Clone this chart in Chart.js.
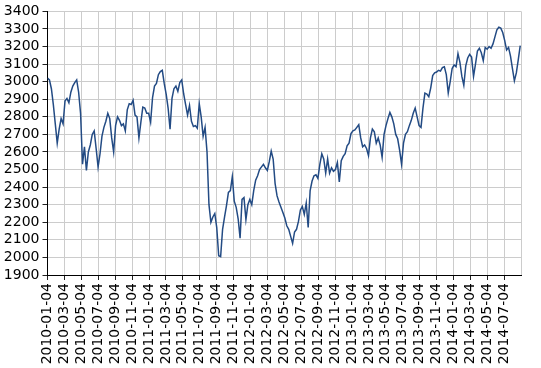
<!DOCTYPE html>
<html>
<head>
<meta charset="utf-8">
<script src="https://cdn.jsdelivr.net/npm/chart.js@4.4.0/dist/chart.umd.min.js"></script>
<style>
  html, body { margin: 0; padding: 0; background: #fff; }
  #wrap { width: 541px; height: 368px; position: relative; }
</style>
</head>
<body>
<div id="wrap"><canvas id="priceChart"></canvas></div>
<script>
// Weekly closes, first sample on 2010-01-04
const startDate = '2010-01-04';
const stepDays = 7;

const values = [
    3020, 3010, 2960, 2870, 2760, 2650, 2730, 2790, 2760, 2890,
    2905, 2880, 2940, 2975, 2995, 3010, 2940, 2820, 2530, 2630,
    2495, 2600, 2640, 2700, 2720, 2620, 2515, 2590, 2690, 2740,
    2775, 2820, 2790, 2680, 2600, 2750, 2800, 2780, 2750, 2760,
    2720, 2840, 2875, 2870, 2895, 2810, 2800, 2680, 2770, 2855,
    2850, 2820, 2820, 2770, 2910, 2975, 2990, 3040, 3058, 3065,
    2990, 2930, 2850, 2730, 2905, 2960, 2975, 2945, 2995, 3010,
    2930, 2870, 2810, 2865, 2775, 2745, 2750, 2735, 2875, 2800,
    2690, 2740, 2600, 2300, 2200, 2230, 2250, 2170, 2010, 2005,
    2160, 2230, 2295, 2370, 2380, 2460, 2320, 2285, 2220, 2110,
    2330, 2340, 2215, 2300, 2330, 2300, 2380, 2440, 2465, 2500,
    2515, 2530, 2510, 2495, 2545, 2605, 2560, 2420, 2350, 2315,
    2285, 2255, 2225, 2180, 2160, 2120, 2080, 2145, 2160, 2205,
    2270, 2290, 2245, 2310, 2170, 2380, 2435, 2465, 2470, 2450,
    2530, 2590, 2560, 2480, 2560, 2480, 2510, 2490, 2500, 2540,
    2430, 2550, 2575, 2590, 2635, 2650, 2705, 2720, 2725, 2740,
    2755, 2680, 2630, 2640, 2620, 2580, 2680, 2730, 2715, 2650,
    2680, 2640, 2570, 2700, 2750, 2790, 2825, 2800, 2760, 2700,
    2675, 2610, 2530, 2650, 2700, 2715, 2750, 2780, 2820, 2850,
    2800, 2750, 2740, 2850, 2935, 2930, 2915, 2965, 3035, 3050,
    3055, 3065, 3060, 3080, 3085, 3040, 2935, 3000, 3075, 3095,
    3085, 3160, 3110, 3030, 2980, 3090, 3135, 3155, 3140, 3030,
    3100, 3175, 3190, 3165, 3120, 3195, 3185, 3200, 3190, 3215,
    3255, 3295, 3310, 3305, 3280, 3235, 3180, 3195, 3145, 3075,
    3005, 3050, 3125, 3205
];

const tickLabels = [
    '2010-01-04', '2010-03-04', '2010-05-04', '2010-07-04', '2010-09-04', '2010-11-04',
    '2011-01-04', '2011-03-04', '2011-05-04', '2011-07-04', '2011-09-04', '2011-11-04',
    '2012-01-04', '2012-03-04', '2012-05-04', '2012-07-04', '2012-09-04', '2012-11-04',
    '2013-01-04', '2013-03-04', '2013-05-04', '2013-07-04', '2013-09-04', '2013-11-04',
    '2014-01-04', '2014-03-04', '2014-05-04', '2014-07-04'
];

const yMin = 1900;
const yMax = 3400;
const yStep = 100;

// x is measured in months since startDate, ticks every 2 months
const DAYS_PER_MONTH = 365.25 / 12;
const lastMonth = tickLabels.length * 2;
const points = values.map((v, i) => ({ x: i * stepDays / DAYS_PER_MONTH, y: v }));

const tickFont = { family: 'DejaVu Sans', size: 14 };

new Chart(document.getElementById('priceChart'), {
    type: 'line',
    data: {
        datasets: [{
            data: points,
            borderColor: '#234b84',
            borderWidth: 1.5,
            pointRadius: 0,
            tension: 0,
            fill: false
        }]
    },
    options: {
        responsive: true,
        maintainAspectRatio: false,
        animation: false,
        layout: { padding: { top: 10, right: 4, left: 0, bottom: 0 } },
        plugins: {
            legend: { display: false },
            tooltip: { enabled: false }
        },
        scales: {
            x: {
                type: 'linear',
                min: 0,
                max: lastMonth,
                afterFit: (scale) => { scale.height = 93; },
                border: { color: '#000', width: 1 },
                grid: {
                    color: '#cccccc',
                    lineWidth: 1,
                    tickLength: 5,
                    tickColor: (ctx) => ctx.index === tickLabels.length ? 'rgba(0,0,0,0)' : '#222'
                },
                ticks: {
                    stepSize: 2,
                    autoSkip: false,
                    minRotation: 90,
                    maxRotation: 90,
                    padding: 3,
                    color: '#000',
                    font: tickFont,
                    callback: function(value) {
                        const label = tickLabels[Math.round(value / 2)];
                        return label === undefined ? '' : label;
                    }
                }
            },
            y: {
                min: yMin,
                max: yMax,
                afterFit: (scale) => { scale.width = 47.5; },
                border: { color: '#000', width: 1 },
                grid: {
                    color: '#cccccc',
                    lineWidth: 1,
                    tickLength: 5,
                    tickColor: '#222'
                },
                ticks: {
                    stepSize: yStep,
                    autoSkip: false,
                    padding: 3,
                    color: '#000',
                    font: tickFont,
                    callback: (value) => String(value)
                }
            }
        }
    }
});
</script>
</body>
</html>
